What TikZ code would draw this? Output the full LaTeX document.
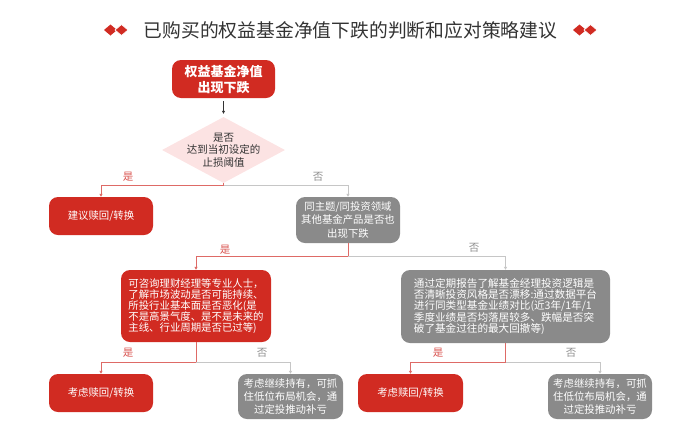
\documentclass[tikz,border=0pt]{standalone}
\usepackage{fontspec}
\setmainfont{Noto Sans CJK SC}
\usetikzlibrary{arrows.meta,shapes.geometric}
\definecolor{boxred}{HTML}{D12B22}
\definecolor{boxgray}{HTML}{8A8A8A}
\definecolor{diafill}{HTML}{FCE3E3}
\definecolor{linered}{HTML}{DE6A66}
\definecolor{linegray}{HTML}{C6C6C6}
\definecolor{labred}{HTML}{D9534F}
\definecolor{labgray}{HTML}{8F8F8F}
\definecolor{titlec}{HTML}{333333}
\begin{document}
\begin{tikzpicture}[x=1pt,y=-1pt,
  redbox/.style={fill=boxred,rounded corners=9pt,text=white,inner sep=0pt,align=center},
  graybox/.style={fill=boxgray,rounded corners=9pt,text=white,inner sep=0pt,align=center},
  redline/.style={draw=linered,line width=0.8pt},
  grayline/.style={draw=linegray,line width=0.8pt},
  tip/.style={-{Triangle[length=3pt,width=3pt]}},
  ylab/.style={text=labred,font=\fontsize{10.5}{12}\selectfont,inner sep=0pt},
  nlab/.style={text=labgray,font=\fontsize{10.5}{12}\selectfont,inner sep=0pt},
  txt/.style={font=\fontsize{10.4}{13.2}\selectfont}
]
\useasboundingbox (0,0) rectangle (700,445);
% title ornaments
\fill[boxred] (110.5,24.5) -- (117,30) -- (110.5,35.5) -- (104,30) -- cycle;
\filldraw[fill=boxred,draw=white,line width=0.7pt] (121.5,24.5) -- (128,30) -- (121.5,35.5) -- (115,30) -- cycle;
\fill[boxred] (579.5,24.5) -- (586,30) -- (579.5,35.5) -- (573,30) -- cycle;
\filldraw[fill=boxred,draw=white,line width=0.7pt] (590.5,24.5) -- (597,30) -- (590.5,35.5) -- (584,30) -- cycle;
\node[font=\fontsize{18.8}{22}\selectfont,text=titlec,inner sep=0pt] (title) at (350.5,30) {已购买的权益基金净值下跌的判断和应对策略建议};

% top
\node[redbox,minimum width=103pt,minimum height=38pt,font=\bfseries\fontsize{13}{16}\selectfont] (top) at (223.5,79) {权益基金净值\\出现下跌};
\node[diamond,fill=diafill,minimum width=123pt,minimum height=66pt,inner sep=0pt,
  label={[text=titlec,align=center,font=\fontsize{10.5}{12.5}\selectfont]center:是否\\达到当初设定的\\止损阈值}] (dia) at (223.5,150) {};
\draw[draw=titlec,line width=0.7pt,tip,shorten <=3pt,shorten >=3pt] (top.south) -- (dia.north);

% level 1
\node[redbox,minimum width=104pt,minimum height=38pt,txt] (b1) at (101,216) {建议赎回/转换};
\node[graybox,minimum width=104pt,minimum height=46pt,txt] (g1) at (348,220) {同主题/同投资领域\\其他基金产品是否也\\出现下跌};
\coordinate (j1) at (223.5,185);
\draw[redline] (dia.south) -- (j1);
\draw[redline,tip] (j1) -| (b1.north);
\draw[grayline,tip] (j1) -| (g1.north);
\node[ylab] (l1) at (128,177) {是};
\node[nlab] (l2) at (318,177) {否};

% level 2
\node[redbox,minimum width=150pt,minimum height=72pt,font=\fontsize{10.4}{10.9}\selectfont,align=left] (b2) at (196,306) {可咨询理财经理等专业人士，\\了解市场波动是否可能持续、\\所投行业基本面是否恶化(是\\不是高景气度、是不是未来的\\主线、行业周期是否已过等)};
\node[graybox,minimum width=209pt,minimum height=73pt,font=\fontsize{10.6}{10.9}\selectfont,align=left] (g2) at (505.5,306.5) {通过定期报告了解基金经理投资逻辑是\\否清晰投资风格是否漂移:通过数据平台\\进行同类型基金业绩对比(近3年/1年/1\\季度业绩是否均落居较多、跌幅是否突\\破了基金过往的最大回撤等)};
\coordinate (j2) at (348,256);
\draw[redline] (g1.south) -- (j2);
\draw[redline,tip] (j2) -| (b2.north);
\draw[grayline,tip] (j2) -| (g2.north);
\node[ylab] (l3) at (225,250) {是};
\node[nlab] (l4) at (474,248) {否};

% level 3
\node[redbox,minimum width=104pt,minimum height=38pt,txt] (b3) at (101,393) {考虑赎回/转换};
\node[graybox,minimum width=105pt,minimum height=45pt,txt] (g3) at (290.5,396.5) {考虑继续持有，可抓\\住低位布局机会，通\\过定投推动补亏};
\coordinate (j3) at (196,362);
\draw[redline] (b2.south) -- (j3);
\draw[redline,tip] (j3) -| (b3.north);
\draw[grayline,tip] (j3) -| (g3.north);
\node[ylab] (l5) at (128,353) {是};
\node[nlab] (l6) at (262,353) {否};

\node[redbox,minimum width=105pt,minimum height=38pt,txt] (b4) at (410.5,393) {考虑赎回/转换};
\node[graybox,minimum width=104pt,minimum height=45pt,txt] (g4) at (600,396.5) {考虑继续持有，可抓\\住低位布局机会，通\\过定投推动补亏};
\coordinate (j4) at (505.5,362);
\draw[redline] (g2.south) -- (j4);
\draw[redline,tip] (j4) -| (b4.north);
\draw[grayline,tip] (j4) -| (g4.north);
\node[ylab] (l7) at (438,353) {是};
\node[nlab] (l8) at (571,353) {否};
\end{tikzpicture}
\end{document}
